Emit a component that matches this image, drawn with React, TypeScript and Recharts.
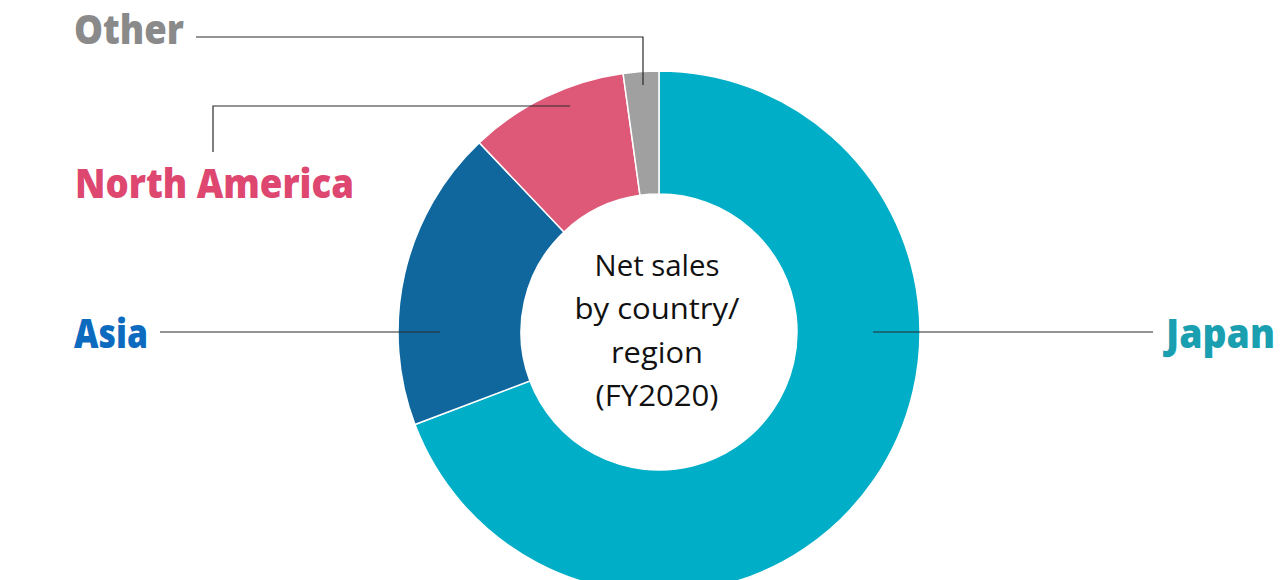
import React from "react";
import { PieChart, Pie, Cell } from "recharts";

const regions = ["Japan", "Asia", "North America", "Other"];
const shares = [69.3, 18.7, 9.9, 2.2];
const sliceColors = ["#00AEC7", "#10679E", "#DE5878", "#A0A0A0"];
const labelColors = ["#1A9FB1", "#0C6BBF", "#DD4770", "#8A8A8A"];
const centerLines = ["Net sales", "by country/", "region", "(FY2020)"];

const data = regions.map((name, i) => ({ name, value: shares[i] }));

const W = 1281;
const H = 580;
const FONT = "'Open Sans', 'Noto Sans', sans-serif";

// leader layouts relative to pie center (annotation layout, not data)
const layouts: Record<string, { pts: [number, number][]; tx: number; ty: number; anchor: "start" | "end"; len: number }> = {
  Japan: { pts: [[214, 0], [494, 0]], tx: 507, ty: 16, anchor: "start", len: 109 },
  Asia: { pts: [[-219, 0], [-499, 0]], tx: -511, ty: 16, anchor: "end", len: 74 },
  "North America": { pts: [[-89, -226], [-446, -226], [-446, -180]], tx: -584, ty: -134, anchor: "start", len: 279 },
  Other: { pts: [[-16, -247], [-16, -295], [-463, -295]], tx: -585, ty: -288, anchor: "start", len: 110 },
};

const renderLabel = (props: any) => {
  const { cx, cy, name, index } = props;
  const l = layouts[name];
  if (!l) return null;
  const d = l.pts.map((p, i) => `${i === 0 ? "M" : "L"}${cx + p[0]},${cy + p[1]}`).join(" ");
  return (
    <g key={`lbl-${index}`}>
      <path d={d} stroke="#2a2a2a" strokeWidth={1.2} fill="none" />
      <text
        x={cx + l.tx}
        y={cy + l.ty}
        textAnchor={l.anchor}
        fill={labelColors[index]}
        fontFamily={FONT}
        fontWeight={800}
        fontSize={40}
        textLength={l.len}
        lengthAdjust="spacingAndGlyphs"
      >
        {name}
      </text>
    </g>
  );
};

const centerLens = [125, 165, 92, 123];

export default function App() {
  const cx = 659;
  const cy = 332;
  return (
    <div style={{ position: "absolute", left: 0, top: 0, width: W, height: H, background: "#fff", overflow: "hidden" }}>
      <PieChart width={W} height={H} margin={{ top: 0, right: 0, bottom: 0, left: 0 }}>
        <Pie
          data={data}
          dataKey="value"
          nameKey="name"
          cx={cx}
          cy={cy}
          innerRadius={138}
          outerRadius={261}
          startAngle={90}
          endAngle={-270}
          stroke="#ffffff"
          strokeWidth={1.5}
          isAnimationActive={false}
          labelLine={false}
          label={renderLabel}
        >
          {data.map((d, i) => (
            <Cell key={d.name} fill={sliceColors[i]} />
          ))}
        </Pie>
        <g>
          {centerLines.map((t, i) => (
            <text
              key={t}
              x={cx - 2}
              y={276 + i * 43.3}
              textAnchor="middle"
              fill="#111"
              fontFamily={FONT}
              fontSize={29}
              textLength={centerLens[i]}
              lengthAdjust="spacingAndGlyphs"
            >
              {t}
            </text>
          ))}
        </g>
      </PieChart>
    </div>
  );
}
